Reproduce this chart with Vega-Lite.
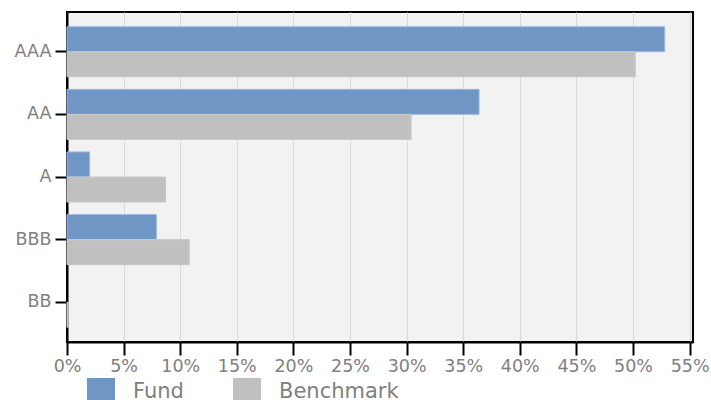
{
  "$schema": "https://vega.github.io/schema/vega-lite/v6.json",
  "autosize": {"type": "none"},
  "padding": {"left": 67, "top": 12, "right": 18, "bottom": 58},
  "width": 626,
  "height": 330,
  "background": "white",
  "title": {
    "text": "Credit Quality",
    "anchor": "start",
    "frame": "group",
    "dx": -37,
    "offset": 9,
    "baseline": "bottom",
    "font": "DejaVu Sans",
    "fontSize": 22,
    "fontWeight": "bold",
    "color": "#4f7fc4"
  },
  "data": {
    "values": [
      {"rating": "AAA", "series": "Fund", "pct": 52.8},
      {"rating": "AAA", "series": "Benchmark", "pct": 50.2},
      {"rating": "AA", "series": "Fund", "pct": 36.4},
      {"rating": "AA", "series": "Benchmark", "pct": 30.4},
      {"rating": "A", "series": "Fund", "pct": 2.0},
      {"rating": "A", "series": "Benchmark", "pct": 8.7},
      {"rating": "BBB", "series": "Fund", "pct": 7.9},
      {"rating": "BBB", "series": "Benchmark", "pct": 10.8},
      {"rating": "BB", "series": "Fund", "pct": 0.0},
      {"rating": "BB", "series": "Benchmark", "pct": 0.1}
    ]
  },
  "mark": {"type": "bar", "strokeWidth": 1},
  "encoding": {
    "y": {
      "field": "rating",
      "type": "nominal",
      "sort": ["AAA", "AA", "A", "BBB", "BB"],
      "scale": {"paddingInner": 0.2, "paddingOuter": 0.235},
      "axis": {
        "title": null,
        "domainColor": "black",
        "domainWidth": 2,
        "tickColor": "black",
        "tickWidth": 2,
        "tickSize": 12,
        "labelPadding": 4,
        "labelFont": "DejaVu Sans",
        "labelFontSize": 17.5,
        "labelColor": "#808080",
        "grid": false
      }
    },
    "yOffset": {
      "field": "series",
      "type": "nominal",
      "sort": ["Fund", "Benchmark"],
      "scale": {"paddingInner": 0, "paddingOuter": 0}
    },
    "x": {
      "field": "pct",
      "type": "quantitative",
      "scale": {"domain": [0, 55.3], "nice": false, "zero": true},
      "axis": {
        "title": null,
        "values": [0, 5, 10, 15, 20, 25, 30, 35, 40, 45, 50, 55],
        "labelExpr": "datum.value + '%'",
        "domainColor": "black",
        "domainWidth": 2,
        "tickColor": "black",
        "tickWidth": 2,
        "tickSize": 13,
        "labelPadding": 2,
        "labelFont": "DejaVu Sans",
        "labelFontSize": 17.5,
        "labelColor": "#808080",
        "labelFlush": false,
        "labelOverlap": false,
        "grid": true,
        "gridColor": "#d9d9d9",
        "gridWidth": 1
      }
    },
    "color": {
      "field": "series",
      "type": "nominal",
      "sort": ["Fund", "Benchmark"],
      "scale": {"domain": ["Fund", "Benchmark"], "range": ["#7096c6", "#c0c0c0"]},
      "legend": {
        "title": null,
        "orient": "none",
        "direction": "horizontal",
        "legendX": 20,
        "legendY": 366,
        "symbolType": "square",
        "symbolSize": 784,
        "symbolStrokeWidth": 0,
        "labelFont": "DejaVu Sans",
        "labelFontSize": 21,
        "labelColor": "#808080",
        "labelOffset": 18,
        "columnPadding": 49
      }
    },
    "stroke": {
      "field": "series",
      "type": "nominal",
      "scale": {"domain": ["Fund", "Benchmark"], "range": ["#9fb9de", "#c8c8c8"]},
      "legend": null
    },
    "strokeOpacity": {
      "condition": {"test": "datum.pct == 0", "value": 0},
      "value": 1
    }
  },
  "config": {
    "view": {"fill": "#f2f2f2", "stroke": "black", "strokeWidth": 2}
  }
}
